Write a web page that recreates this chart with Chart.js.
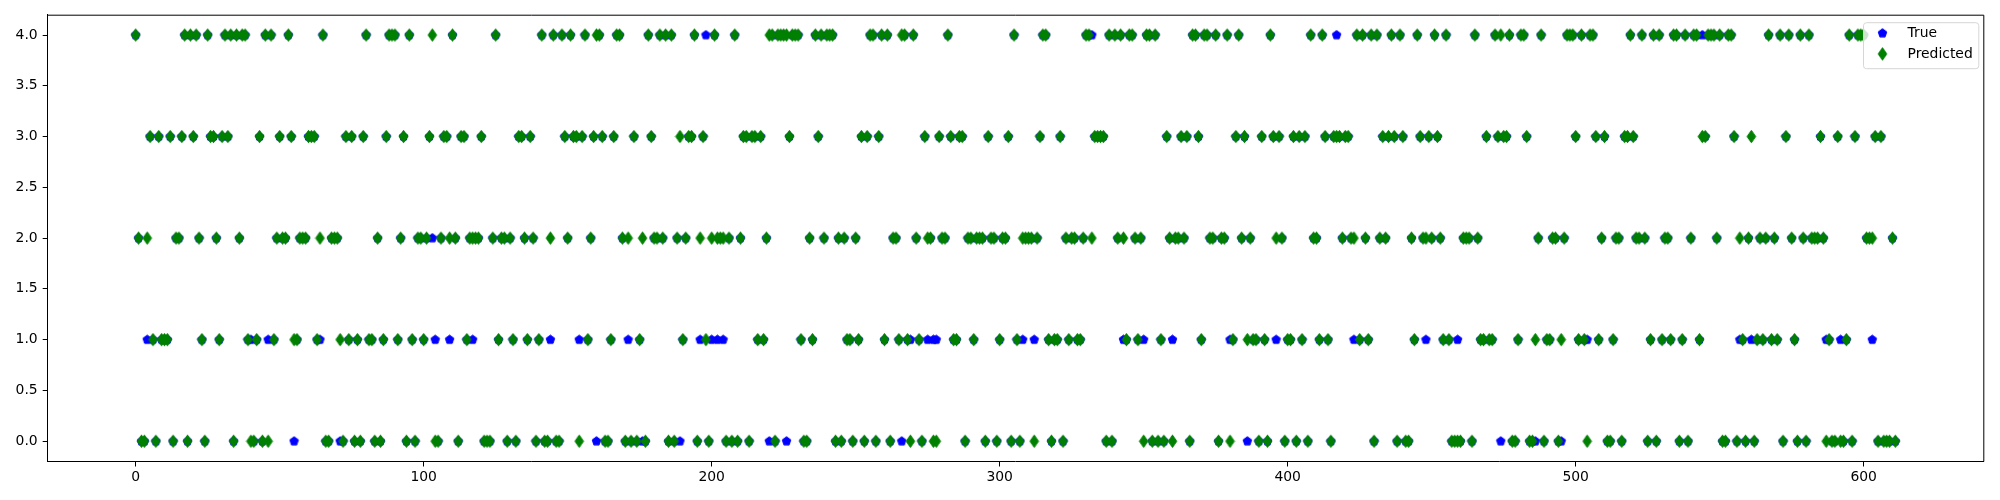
<!DOCTYPE html>
<html>
<head>
<meta charset="utf-8">
<script src="https://cdn.jsdelivr.net/npm/chart.js@4.4.1/dist/chart.umd.min.js"></script>
<style>
    html, body { margin: 0; padding: 0; background: #fff; }
    #wrap { width: 2000px; height: 500px; }
</style>
</head>
<body>
<div id="wrap"><canvas id="chart" width="2000" height="500"></canvas></div>
<script>
// predicted class for every sample index 0..611
const predicted = [
    4,2,0,0,2,3,1,0,3,1, 1,1,3,0,2,2,3,4,0,4,
    3,4,2,1,0,4,3,3,2,1, 3,4,3,4,0,4,2,4,4,1,
    0,0,1,3,0,4,0,4,1,2, 3,2,2,4,3,1,1,2,2,2,
    3,3,3,1,2,4,0,0,2,2, 2,1,0,3,1,3,0,1,0,3,
    4,1,1,0,2,0,1,3,4,4, 4,1,2,3,0,4,1,0,2,2,
    1,2,3,4,0,0,2,3,3,2, 4,2,0,3,3,1,2,2,2,2,
    3,0,0,0,2,4,1,2,2,0, 2,1,0,3,3,2,1,3,2,0,
    1,4,0,0,2,4,0,0,4,3, 2,4,3,3,0,3,4,1,2,3,
    4,4,3,0,0,1,3,4,4,2, 0,2,0,3,0,1,2,0,4,3,
    2,2,4,2,4,0,4,0,2,3, 1,2,3,3,4,0,2,3,1,0,
    2,4,2,2,2,0,2,0,4,0, 2,3,3,0,3,3,1,3,1,2,
    4,4,0,4,4,4,4,3,4,4, 4,1,0,0,2,1,4,3,4,2,
    4,4,4,0,2,0,2,1,1,0, 2,1,3,0,3,4,4,0,3,4,
    1,4,0,2,2,1,4,4,1,0, 4,2,1,0,3,2,2,0,0,3,
    2,2,4,3,1,1,3,3,0,2, 2,1,2,2,2,0,3,2,2,0,
    1,2,2,3,0,4,1,0,2,2, 2,2,0,2,3,4,4,1,0,1,
    1,3,0,2,1,2,2,1,1,2, 4,4,2,3,3,3,3,0,4,0,
    4,2,4,2,1,4,4,2,1,2, 0,4,4,0,4,0,1,0,3,2,
    0,2,2,3,2,3,0,4,4,3, 1,4,4,2,2,4,0,2,2,4,
    0,1,3,4,2,3,1,2,1,1, 0,3,1,0,4,3,2,3,2,0,
    1,1,3,0,3,1,3,0,4,2, 2,1,4,3,1,0,3,3,3,2,
    3,3,2,2,4,1,4,2,1,4, 0,4,2,3,2,3,4,3,0,4,
    3,0,0,2,1,4,3,2,2,3, 2,4,3,2,1,4,1,0,0,0,
    0,2,2,2,0,4,2,1,1,3, 1,1,4,3,4,3,3,4,0,0,
    1,4,4,3,0,0,1,2,4,0, 1,1,2,2,0,1,2,4,4,4,
    3,1,4,1,0,4,4,3,1,2, 3,0,0,1,2,2,0,3,3,4,
    3,2,2,4,2,0,1,4,0,4, 1,2,2,1,4,4,0,1,4,0,
    2,4,4,1,3,3,4,4,4,2, 4,0,0,4,4,3,0,2,1,0,
    2,3,0,1,2,1,2,4,1,2, 1,4,0,3,4,2,1,0,4,2,
    0,4,2,2,2,3,2,0,1,0, 0,3,0,0,1,4,0,3,4,4,
    4,2,2,2,3,0,3,0,0,0, 2,0
]
// indices where the true class differs (visible blue pentagons) and that true class
const mismatchIndex = [4, 40, 46, 55, 64, 71, 103, 104, 109, 117, 144, 154, 160, 171, 176, 189, 196, 198, 200, 202,
    204, 220, 226, 266, 269, 275, 277, 278, 308, 312, 332, 343, 350, 360, 380, 386, 396, 417, 423, 448,
    459, 474, 486, 495, 504, 544, 557, 561, 587, 592, 603]
const mismatchTrue = [1, 1, 1, 0, 1, 0, 2, 1, 1, 1, 1, 1, 0, 1, 0, 0, 1, 4, 1, 1,
    1, 0, 0, 0, 1, 1, 1, 1, 1, 1, 4, 1, 1, 1, 1, 0, 1, 4, 1, 1,
    1, 0, 0, 0, 1, 4, 1, 1, 1, 1, 1]
const xTicks = [0, 100, 200, 300, 400, 500, 600]
const yTicks = [0, 0.5, 1, 1.5, 2, 2.5, 3, 3.5, 4]

const FONT = { family: 'DejaVu Sans', size: 13.9 }

// matplotlib 'p' marker
function pentagon(radius, color) {
    const size = Math.ceil(radius * 2) + 2
    const c = document.createElement('canvas')
    c.width = size
    c.height = size
    const ctx = c.getContext('2d')
    ctx.fillStyle = color
    ctx.strokeStyle = color
    ctx.lineWidth = 1
    ctx.beginPath()
    for (let k = 0; k < 5; k++) {
        const a = -Math.PI / 2 + k * 2 * Math.PI / 5
        const px = size / 2 + radius * Math.cos(a)
        const py = size / 2 + radius * Math.sin(a)
        if (k === 0) ctx.moveTo(px, py)
        else ctx.lineTo(px, py)
    }
    ctx.closePath()
    ctx.fill()
    ctx.stroke()
    return c
}

// matplotlib 'd' marker (thin diamond)
function thinDiamond(halfW, halfH, color) {
    const c = document.createElement('canvas')
    c.width = Math.ceil(halfW * 2) + 2
    c.height = Math.ceil(halfH * 2) + 2
    const ctx = c.getContext('2d')
    const cx = c.width / 2, cy = c.height / 2
    ctx.fillStyle = color
    ctx.strokeStyle = color
    ctx.lineWidth = 1
    ctx.beginPath()
    ctx.moveTo(cx, cy - halfH)
    ctx.lineTo(cx + halfW, cy)
    ctx.lineTo(cx, cy + halfH)
    ctx.lineTo(cx - halfW, cy)
    ctx.closePath()
    ctx.fill()
    ctx.stroke()
    return c
}

const truePen = pentagon(4.5, '#0000ff')
const predDiamond = thinDiamond(4.3, 6.2, '#008000')

const predPoints = predicted.map((v, i) => ({ x: i, y: v }))
const truePoints = predicted.map((v, i) => ({ x: i, y: v }))
mismatchIndex.forEach((idx, k) => {
    truePoints[idx] = { x: idx, y: mismatchTrue[k] }
})

// top/right spines + matplotlib-like legend box in the upper right
const frameAndLegend = {
    id: 'frameAndLegend',
    afterDraw(chart) {
        const { ctx, chartArea } = chart
        ctx.save()
        ctx.strokeStyle = '#000'
        ctx.lineWidth = 1
        ctx.beginPath()
        ctx.moveTo(chartArea.left, chartArea.top + 0.5)
        ctx.lineTo(chartArea.right + 0.5, chartArea.top + 0.5)
        ctx.lineTo(chartArea.right + 0.5, chartArea.bottom)
        ctx.stroke()

        const items = chart.data.datasets
        ctx.font = FONT.size + 'px ' + FONT.family
        const textW = Math.max(...items.map(d => ctx.measureText(d.label).width))
        const w = 5.6 + 27.8 + 11.1 + textW + 5.6
        const h = 46
        const right = chartArea.right - 5
        const left = right - w
        const top = chartArea.top + 7.5
        ctx.beginPath()
        ctx.roundRect(left + 0.5, top + 0.5, w, h, 3)
        ctx.fillStyle = 'rgba(255,255,255,0.8)'
        ctx.fill()
        ctx.strokeStyle = '#d6d6d6'
        ctx.stroke()

        ctx.textBaseline = 'middle'
        ctx.fillStyle = '#000'
        items.forEach((d, k) => {
            const cy = top + 11 + k * 20.7
            const img = d.pointStyle
            ctx.drawImage(img, left + 19.5 - img.width / 2, cy - img.height / 2)
            ctx.fillText(d.label, left + 5.6 + 27.8 + 11.1, cy)
        })
        ctx.restore()
    }
}

new Chart(document.getElementById('chart'), {
    type: 'scatter',
    data: {
        datasets: [
            {
                label: 'True',
                data: truePoints,
                pointStyle: truePen,
                pointRadius: 5,
                order: 1
            },
            {
                label: 'Predicted',
                data: predPoints,
                pointStyle: predDiamond,
                pointRadius: 5,
                order: 0
            }
        ]
    },
    options: {
        responsive: false,
        animation: false,
        devicePixelRatio: 1,
        events: [],
        layout: { padding: { top: 14.7, right: 16.7, left: 0, bottom: 0 } },
        plugins: {
            legend: { display: false },
            tooltip: { enabled: false }
        },
        scales: {
            x: {
                type: 'linear',
                min: -30.55,
                max: 641.55,
                afterBuildTicks: scale => { scale.ticks = xTicks.map(v => ({ value: v })) },
                afterFit: scale => { scale.height = 38.5 },
                grid: { drawOnChartArea: false, drawTicks: true, tickLength: 5, color: '#000', lineWidth: 1 },
                border: { display: true, color: '#000', width: 1 },
                ticks: {
                    color: '#000',
                    font: FONT,
                    padding: 3,
                    maxRotation: 0,
                    autoSkip: false,
                    callback: v => String(v)
                }
            },
            y: {
                type: 'linear',
                min: -0.2,
                max: 4.2,
                afterBuildTicks: scale => { scale.ticks = yTicks.map(v => ({ value: v })) },
                afterFit: scale => { scale.width = 47.7 },
                grid: { drawOnChartArea: false, drawTicks: true, tickLength: 5, color: '#000', lineWidth: 1 },
                border: { display: true, color: '#000', width: 1 },
                ticks: {
                    color: '#000',
                    font: FONT,
                    padding: 5,
                    autoSkip: false,
                    callback: v => v.toFixed(1)
                }
            }
        }
    },
    plugins: [frameAndLegend]
})
</script>
</body>
</html>
